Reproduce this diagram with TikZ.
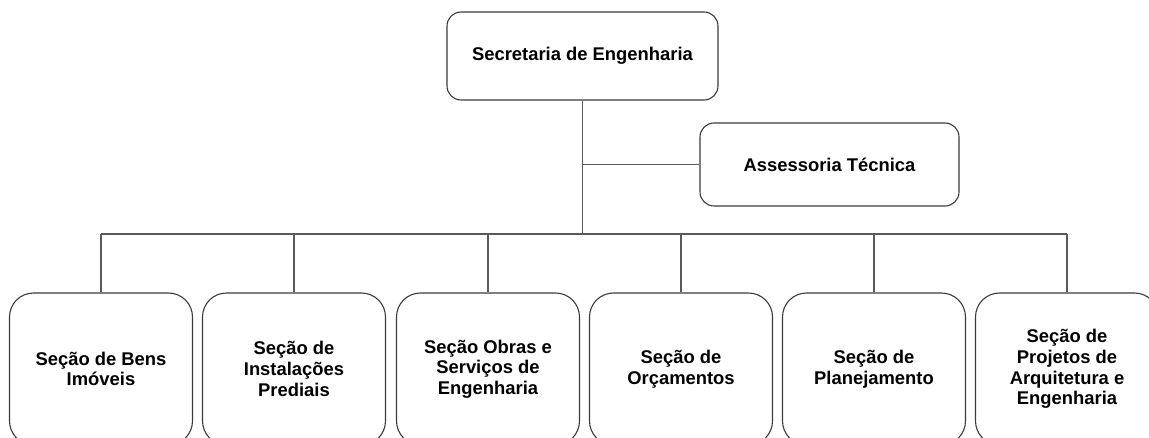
\documentclass[tikz,border=0pt]{standalone}
\usepackage{fontspec}
\setmainfont{Liberation Sans}
\definecolor{box-gray}{HTML}{3a3a3a}
\definecolor{line-gray}{HTML}{5a5a5a}

\begin{document}
\begin{tikzpicture}[
    x=1pt, y=-1pt,
    font=\bfseries\fontsize{18.4}{20.7}\selectfont,
    head/.style={
        draw=box-gray, line width=1.1pt, rounded corners=14pt,
        align=center, inner sep=0pt,
    },
    section/.style={
        head, rounded corners=24pt,
        minimum width=183pt, minimum height=152pt,
    },
    link/.style={ draw=line-gray, line width=1.1pt, },
]
\useasboundingbox (0,0) rectangle (1149,438);

\node[head, minimum width=271pt, minimum height=88pt] (secretaria) at (582.5,56) {Secretaria de Engenharia};
\node[head, minimum width=259pt, minimum height=83pt] (assessoria) at (829.5,164.5) {Assessoria Técnica};

\coordinate (bus) at (582.5,234);

\foreach \x/\txt [count=\i] in {
    101/{Seção de Bens\\Imóveis},
    294/{Seção de\\Instalações\\Prediais},
    488/{Seção Obras e\\Serviços de\\Engenharia},
    681/{Seção de\\Orçamentos},
    874/{Seção de\\Planejamento},
    1067/{Seção de\\Projetos de\\Arquitetura e\\Engenharia}}
{
    \node[section] (sec\i) at (\x,369) {\txt};
    \draw[link] (sec\i.north) -- (sec\i.north |- bus);
}

\draw[link] (secretaria.south) -- (bus);
\draw[link] (secretaria.south |- assessoria.west) -- (assessoria.west);
\draw[link] (sec1.north |- bus) -- (sec6.north |- bus);
\end{tikzpicture}
\end{document}
